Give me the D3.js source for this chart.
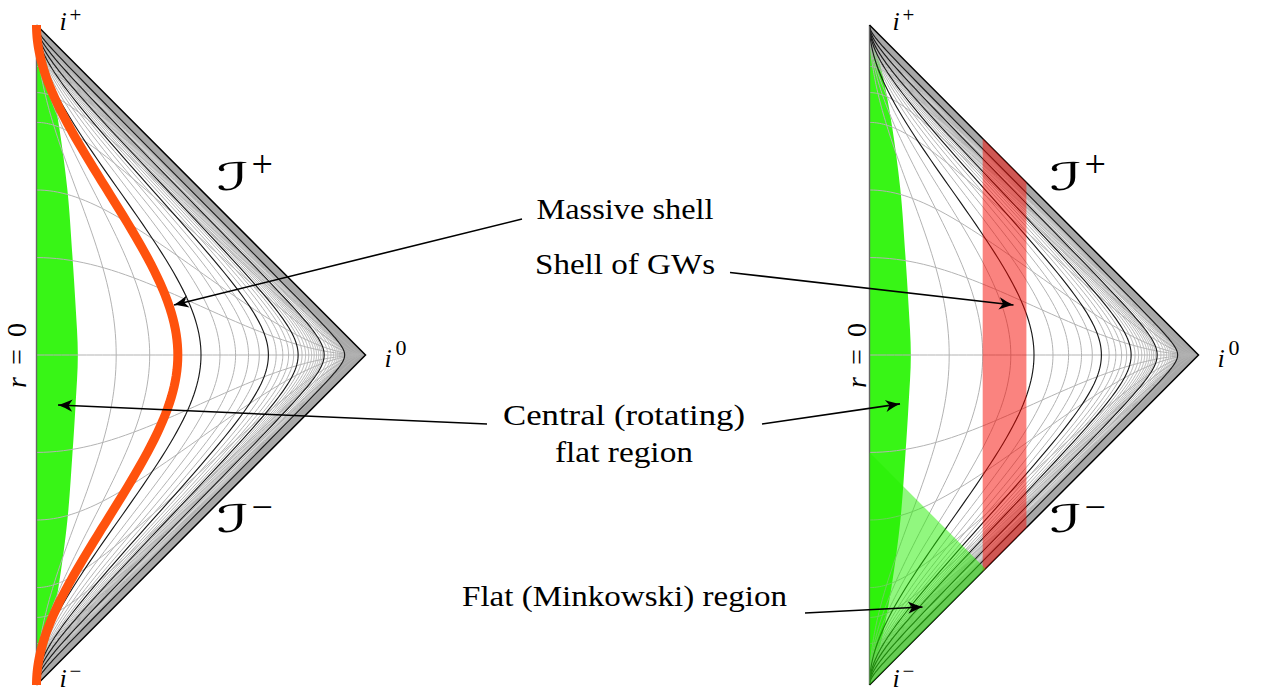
<!DOCTYPE html>
<html>
<head>
<meta charset="utf-8">
<script src="https://cdn.jsdelivr.net/npm/d3@7"></script>
<style>
  html, body { margin: 0; padding: 0; background: #fff; }
  svg { display: block; }
  text { font-family: "Liberation Serif", "Times New Roman", serif; fill: #000; }
</style>
</head>
<body>
<svg id="chart" width="1263" height="693"></svg>
<script>
// ---- Minkowski coordinate grid ----
// slices of constant time t (light grey)
const timeSlices = [-10, -5, -3, -2, -1, -0.5, 0, 0.5, 1, 2, 3, 5, 10];
// worldlines of constant radius r (light grey)
const radiiLight = [0.4, 0.6, 0.8, 1.2, 1.4, 1.6, 1.8, 2.2, 2.4, 2.6, 2.8,
                    3.2, 3.4, 3.6, 3.8, 4, 4.2, 4.4, 4.6, 4.8,
                    5.5, 6, 6.5, 7, 7.5, 8, 8.5, 9, 9.5];
// worldlines of constant radius r (dark)
const radiiDark = [1, 2, 3, 5, 10];
// region r > outerRadius is shaded up to null infinity
const outerRadius = 10;

// ---- physical content ----
const shellRadius = 0.8;                       // massive shell worldline
const centralEdgeT = [0, 0.25, 0.53, 1.05, 2.08, 4.5, 13.6];   // edge of central flat region
const centralEdgeR = [0.2, 0.2, 0.22, 0.305, 0.54, 1.23, 3.57];
const gwShellRadii = [0.6, 0.93];              // inner / outer radius of the GW shell at t = 0
const flatRegionAdvancedTime = -0.5;           // t + r bounding the Minkowski region

// ---- labels ----
const calloutLines = {
  massive: ["Massive shell"],
  gws: ["Shell of GWs"],
  central: ["Central (rotating)", "flat region"],
  flat: ["Flat (Minkowski) region"]
};

const svg = d3.select("#chart");
const PI = Math.PI;

// conformal compactification: (t, r) -> (X, T)
function conformal(t, r) {
  const a = Math.atan(t + r), b = Math.atan(t - r);
  return [a - b, a + b];
}

// sampling parameter along curves
const sParams = d3.range(-12, 12.0001, 0.04);
function radiusCurve(r) {
  const pts = [[0, -PI]];
  sParams.forEach(s => pts.push(conformal(Math.sinh(s), r)));
  pts.push([0, PI]);
  return pts;
}
function timeCurve(t) {
  const pts = [];
  sParams.filter(s => s >= 0).forEach(s => pts.push(conformal(t, Math.sinh(s))));
  pts.push([PI, 0]);
  return pts;
}

const defs = svg.append("defs");
defs.append("marker")
  .attr("id", "head")
  .attr("markerUnits", "userSpaceOnUse")
  .attr("markerWidth", 20).attr("markerHeight", 20)
  .attr("viewBox", "-16 -8 18 16")
  .attr("refX", 0).attr("refY", 0)
  .attr("orient", "auto")
  .append("path")
  .attr("d", "M0,0 C-4,-1.2 -9,-3.6 -13,-5.5 L-9.5,0 L-13,5.5 C-9,3.6 -4,1.2 0,0 Z")
  .attr("fill", "#000");

function diagram(id, x0, axisLabelX) {
  const xs = d3.scaleLinear().domain([0, PI]).range([x0, x0 + 329]);
  const ys = d3.scaleLinear().domain([-PI, PI]).range([685, 25]);
  const line = d3.line().x(d => xs(d[0])).y(d => ys(d[1]));
  const smooth = d3.line().x(d => xs(d[0])).y(d => ys(d[1])).curve(d3.curveCatmullRom.alpha(0.5));

  const g = svg.append("g").attr("id", id);
  const triangle = [[0, -PI], [0, PI], [PI, 0]];
  defs.append("clipPath").attr("id", id + "-clip")
    .append("path").attr("d", line(triangle) + "Z");
  const inner = g.append("g").attr("clip-path", `url(#${id}-clip)`);

  // central flat region
  const edge = [[0, PI]];
  for (let i = centralEdgeT.length - 1; i >= 0; i--) edge.push(conformal(centralEdgeT[i], centralEdgeR[i]));
  for (let i = 1; i < centralEdgeT.length; i++) edge.push(conformal(-centralEdgeT[i], centralEdgeR[i]));
  edge.push([0, -PI]);
  inner.append("path").attr("d", smooth(edge) + "Z").attr("fill", "#38f516");

  // shaded band near null infinity
  const band = radiusCurve(outerRadius).concat([[PI, 0]]);
  inner.append("path").attr("d", line(band) + "Z").attr("fill", "#a8a8a8");

  // light grid
  const light = inner.append("g").attr("fill", "none").attr("stroke", "#b3b3b3").attr("stroke-width", 1);
  timeSlices.forEach(t => light.append("path").attr("d", line(timeCurve(t))));
  radiiLight.forEach(r => light.append("path").attr("d", line(radiusCurve(r))));

  // dark worldlines
  const dark = inner.append("g").attr("fill", "none").attr("stroke", "#1a1a1a").attr("stroke-width", 1.15);
  radiiDark.forEach(r => dark.append("path").attr("d", line(radiusCurve(r))));

  // boundary: r = 0 axis and null infinity
  g.append("path").attr("d", line([[0, -PI], [0, PI]]))
    .attr("stroke", "#666").attr("stroke-width", 1.4).attr("fill", "none");
  g.append("path").attr("d", line([[0, PI], [PI, 0], [0, -PI]]))
    .attr("stroke", "#000").attr("stroke-width", 1.5).attr("fill", "none")
    .attr("stroke-linejoin", "miter");

  // point labels
  const lab = g.append("g");
  const put = (txt, x, y, size, italic) => lab.append("text")
    .attr("x", x).attr("y", y).attr("font-size", size)
    .attr("font-style", italic ? "italic" : null)
    .text(txt);
  put("i", x0 + 23, 30, 26, true);
  put("+", x0 + 33, 22, 21, false);
  put("i", x0 + 23, 687, 26, true);
  put("\u2212", x0 + 33, 678, 21, false);
  put("i", xs(PI) + 19, 367, 26, true);
  put("0", xs(PI) + 30, 355, 22, false);
  // null infinity, scri
  [[190, "+", 177], [532, "\u2212", 520]].forEach(([base, sign, signBase]) => {
    lab.append("text")
      .attr("x", x0 + 180).attr("y", base).attr("font-size", 38)
      .attr("font-style", "italic")
      .attr("textLength", 33).attr("lengthAdjust", "spacingAndGlyphs")
      .style("font-family", "'DejaVu Serif', 'DejaVu Sans', serif")
      .text("\u2110");
    lab.append("text")
      .attr("x", x0 + 215).attr("y", signBase).attr("font-size", 38)
      .text(sign);
  });

  const rl = lab.append("text")
    .attr("transform", `translate(${axisLabelX},355.5) rotate(-90)`)
    .attr("text-anchor", "middle").attr("font-size", 28)
    .attr("textLength", 65).attr("lengthAdjust", "spacing");
  rl.append("tspan").attr("font-style", "italic").text("r");
  rl.append("tspan").text("=");
  rl.append("tspan").text("0");

  return { g, inner, xs, ys, line };
}

const left = diagram("left", 36.5, 26);
const right = diagram("right", 869.5, 865.5);

// massive shell worldline (left)
left.g.append("path")
  .attr("d", left.line(radiusCurve(shellRadius)))
  .attr("fill", "none").attr("stroke", "#ff520d").attr("stroke-width", 9);

// shell of gravitational waves (right)
{
  const X1 = 2 * Math.atan(gwShellRadii[0]), X2 = 2 * Math.atan(gwShellRadii[1]);
  const poly = [[X1, -(PI - X1)], [X2, -(PI - X2)], [X2, PI - X2], [X1, PI - X1]];
  right.g.append("path").attr("d", right.line(poly) + "Z")
    .attr("fill", "rgb(245,8,0)").attr("fill-opacity", 0.5);
}
// flat Minkowski region below the ingoing null ray (right)
{
  const a = Math.atan(flatRegionAdvancedTime);
  const poly = [[0, -PI], [0, 2 * a], [a + PI / 2, a - PI / 2]];
  right.g.append("path").attr("d", right.line(poly) + "Z")
    .attr("fill", "rgb(35,240,0)").attr("fill-opacity", 0.5);
}

// ---- callouts ----
const notes = svg.append("g");
function callout(lines, cx, baselines, widths) {
  lines.forEach((s, i) => notes.append("text")
    .attr("x", cx).attr("y", baselines[i])
    .attr("text-anchor", "middle").attr("font-size", 29)
    .attr("textLength", widths[i]).attr("lengthAdjust", "spacingAndGlyphs")
    .text(s));
}
callout(calloutLines.massive, 625, [219], [177]);
callout(calloutLines.gws, 625, [274], [180]);
callout(calloutLines.central, 624, [425, 462], [242, 138]);
callout(calloutLines.flat, 624.5, [606], [325]);

// arrows: start in page space, tip on a diagram in conformal units (X/pi, T/pi)
const arrows = [
  { from: [522, 219], d: left, tip: [0.418, 0.1515] },
  { from: [487, 424], d: left, tip: [0.0653, -0.1515] },
  { from: [762, 424], d: right, tip: [0.0927, -0.148] },
  { from: [730, 272.5], d: right, tip: [0.4377, 0.1515] },
  { from: [805, 613], d: right, tip: [0.1611, -0.7636] }
];
arrows.forEach(a => {
  const tx = a.d.xs(a.tip[0] * PI), ty = a.d.ys(a.tip[1] * PI);
  notes.append("line")
    .attr("x1", a.from[0]).attr("y1", a.from[1])
    .attr("x2", tx).attr("y2", ty)
    .attr("stroke", "#000").attr("stroke-width", 1.6)
    .attr("marker-end", "url(#head)");
});
</script>
</body>
</html>
